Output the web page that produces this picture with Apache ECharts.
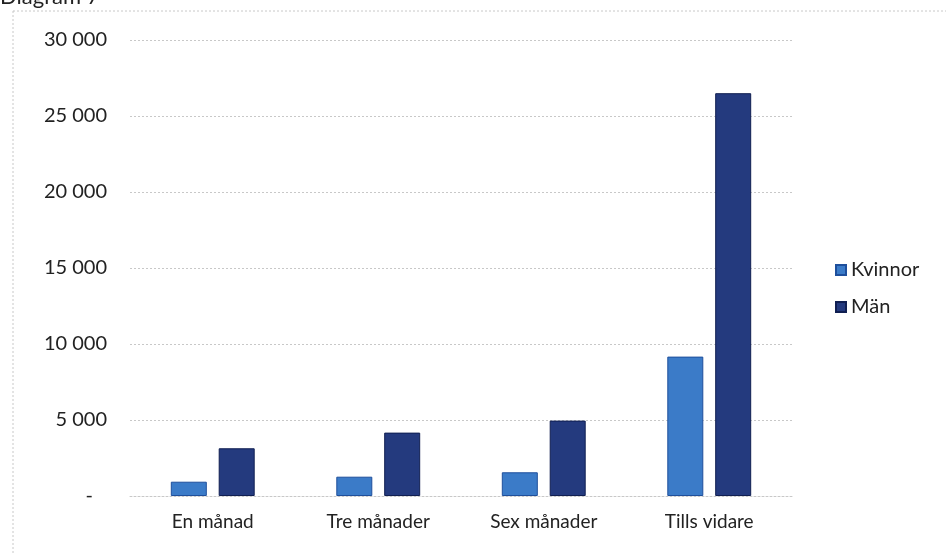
<!DOCTYPE html>
<html>
<head>
<meta charset="utf-8">
<script src="https://cdn.jsdelivr.net/npm/echarts@6/dist/echarts.min.js"></script>
<style>
  html, body { margin: 0; padding: 0; background: #fff; }
  #chart { width: 946px; height: 553px; }
</style>
</head>
<body>
<div id="chart"></div>
<script>
const categories = ['En månad', 'Tre månader', 'Sex månader', 'Tills vidare'];
const kvinnor = [940, 1270, 1560, 9170];
const man = [3140, 4170, 4960, 26500];
const seriesNames = ['Kvinnor', 'Män'];

const fontFamily = 'Lato, "Open Sans", sans-serif';

// 30 000 style, zero as a dash
function formatTick(v) {
  if (v === 0) return '{dash|-}';
  return String(v).replace(/\B(?=(\d{3})+(?!\d))/g, ' ');
}

const chart = echarts.init(document.getElementById('chart'));

chart.setOption({
  animation: false,
  textStyle: { fontFamily: fontFamily, color: '#222' },
  graphic: [
    {
      type: 'rect',
      shape: { x: 13, y: 11, width: 945, height: 560 },
      style: { fill: 'none', stroke: '#c8c8c8', lineWidth: 1, lineDash: [2, 2] },
      silent: true
    },
    {
      type: 'text',
      left: 0,
      top: -14,
      style: { text: 'Diagram 7', fontSize: 22, fontFamily: fontFamily, fill: '#222' }
    }
  ],
  grid: { left: 130, right: 154, top: 40, bottom: 57 },
  legend: {
    orient: 'vertical',
    left: 830,
    top: 255,
    itemWidth: 10,
    itemHeight: 10,
    itemGap: 17,
    icon: 'rect',
    textStyle: { fontSize: 20, color: '#222', fontFamily: fontFamily },
    data: seriesNames
  },
  xAxis: {
    type: 'category',
    data: categories,
    axisLine: { lineStyle: { color: '#c8c8c8', type: [2, 2] } },
    axisTick: { show: false },
    axisLabel: { fontSize: 19, color: '#222', margin: 16 }
  },
  yAxis: {
    type: 'value',
    min: 0,
    max: 30000,
    interval: 5000,
    axisLine: { show: false },
    axisTick: { show: false },
    axisLabel: {
      fontSize: 20,
      color: '#222',
      margin: 23,
      formatter: formatTick,
      rich: { dash: { fontSize: 20, padding: [0, 14, 0, 0] } }
    },
    splitLine: { lineStyle: { color: '#c8c8c8', type: [2, 2] } }
  },
  series: [
    {
      name: seriesNames[0],
      type: 'bar',
      data: kvinnor,
      barWidth: 36,
      barGap: '33%',
      itemStyle: { color: '#3b7bc8', borderColor: '#1e4f9c', borderWidth: 1 }
    },
    {
      name: seriesNames[1],
      type: 'bar',
      data: man,
      barWidth: 36,
      barGap: '33%',
      itemStyle: { color: '#243a7e', borderColor: '#101f52', borderWidth: 1 }
    }
  ]
});
</script>
</body>
</html>
